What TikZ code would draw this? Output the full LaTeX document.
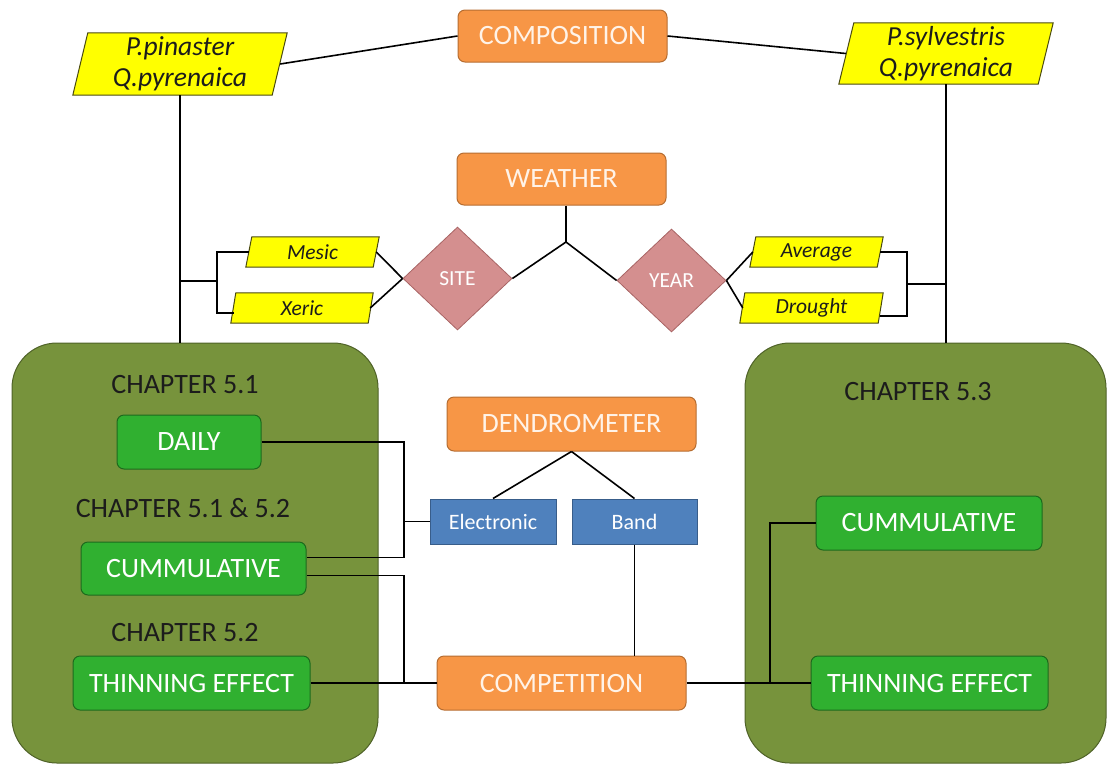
\documentclass[tikz,border=0pt]{standalone}
\usepackage{fontspec}
\setmainfont{Carlito}
\usetikzlibrary{shapes.geometric,calc,backgrounds}
\definecolor{orng}{HTML}{F79646}
\definecolor{orngb}{HTML}{B66D31}
\definecolor{orngt}{HTML}{FFF3E8}
\definecolor{grn}{HTML}{30B030}
\definecolor{grnb}{HTML}{1D6A1D}
\definecolor{olv}{HTML}{77933C}
\definecolor{olvb}{HTML}{4F6228}
\definecolor{blu}{HTML}{4F81BD}
\definecolor{blub}{HTML}{385D8A}
\definecolor{pnk}{HTML}{D48F8F}
\definecolor{pnkb}{HTML}{A86464}
\definecolor{ylw}{HTML}{FFFF00}
\definecolor{ylwb}{HTML}{4A4A10}
\definecolor{txt}{HTML}{1C1C1C}
\tikzset{
  obox/.style={draw=orngb, fill=orng, rounded corners=7pt, line width=1pt, text=orngt, font=\fontsize{28}{32}\selectfont, inner sep=0pt},
  gbox/.style={draw=grnb, fill=grn, rounded corners=7pt, line width=1pt, text=white, font=\fontsize{28}{32}\selectfont, inner sep=0pt},
  bbox/.style={draw=blub, fill=blu, line width=1pt, text=white, font=\fontsize{22}{26}\selectfont, inner sep=0pt},
  dia/.style={diamond, draw=pnkb, fill=pnk, line width=0.8pt, text=white, font=\fontsize{21.5}{25}\selectfont, inner sep=0pt},
  para/.style={inner sep=0pt, text=txt, align=center},
  bigit/.style={font=\itshape\fontsize{27.5}{31}\selectfont},
  smallit/.style={font=\itshape\fontsize{21.5}{25}\selectfont},
  chap/.style={text=txt, font=\fontsize{28}{32}\selectfont, inner sep=0pt},
  conn/.style={line width=1.6pt, black},
  pfill/.style={draw=ylwb, fill=ylw, line width=1pt}
}
\newcommand{\paradraw}[2]{%
  \begin{pgfonlayer}{background}
  \draw[pfill] ([xshift=#2]#1.north west) -- (#1.north east) -- ([xshift=-#2]#1.south east) -- (#1.south west) -- cycle;
  \end{pgfonlayer}}
\begin{document}
\begin{tikzpicture}[x=1pt,y=-1pt]
\useasboundingbox (0,0) rectangle (1108,764);
% chapter boxes
\node[draw=olvb, fill=olv, line width=1pt, rounded corners=45pt, minimum width=366pt, minimum height=420pt, inner sep=0pt] (lbox) at (195,553) {};
\node[draw=olvb, fill=olv, line width=1pt, rounded corners=45pt, minimum width=361pt, minimum height=420pt, inner sep=0pt] (rbox) at (925.5,553) {};
% top
\node[obox, minimum width=209pt, minimum height=52pt] (comp) at (562.5,36) {COMPOSITION};
\node[para, bigit, minimum width=214pt, minimum height=62pt] (pp) at (180,64) {P.pinaster\\Q.pyrenaica};
\paradraw{pp}{15pt}
\node[para, bigit, minimum width=214pt, minimum height=61pt] (ps) at (946,53.5) {P.sylvestris\\Q.pyrenaica};
\paradraw{ps}{15pt}
% weather
\node[obox, minimum width=209pt, minimum height=52pt] (weather) at (561.5,179) {WEATHER};
\node[dia, minimum width=109pt, minimum height=103pt] (site) at (457.5,278.5) {SITE};
\node[dia, minimum width=109pt, minimum height=103pt] (year) at (671.5,280.5) {YEAR};
\node[para, smallit, minimum width=133pt, minimum height=30pt] (mesic) at (312.5,252) {Mesic};
\paradraw{mesic}{6pt}
\node[para, smallit, minimum width=142pt, minimum height=30pt] (xeric) at (302,308) {Xeric};
\paradraw{xeric}{5pt}
\node[para, smallit, minimum width=133pt, minimum height=30pt] (average) at (816.5,252) {Average};
\paradraw{average}{6pt}
\node[para, smallit, minimum width=143pt, minimum height=30pt] (drought) at (811.5,308) {Drought};
\paradraw{drought}{5pt}
% left chapter contents
\node[chap] (ch51) at (185,385) {CHAPTER 5.1};
\node[chap] (ch512) at (183,508) {CHAPTER 5.1 \& 5.2};
\node[chap] (ch52) at (185,633) {CHAPTER 5.2};
\node[gbox, minimum width=144pt, minimum height=54pt] (daily) at (189,442) {DAILY};
\node[gbox, minimum width=225pt, minimum height=53pt] (cumL) at (193.5,568.5) {CUMMULATIVE};
\node[gbox, minimum width=237pt, minimum height=54pt] (thinL) at (191.5,683) {THINNING EFFECT};
% right chapter contents
\node[chap] (ch53) at (918,392) {CHAPTER 5.3};
\node[gbox, minimum width=226pt, minimum height=54pt] (cumR) at (929,523) {CUMMULATIVE};
\node[gbox, minimum width=237pt, minimum height=54pt] (thinR) at (929.5,683) {THINNING EFFECT};
% middle
\node[obox, minimum width=249pt, minimum height=54pt] (dendro) at (571.5,424) {DENDROMETER};
\node[bbox, minimum width=126pt, minimum height=45pt] (elec) at (493,521.5) {Electronic};
\node[bbox, minimum width=125pt, minimum height=45pt] (band) at (634.5,521.5) {Band};
\node[obox, minimum width=249pt, minimum height=54pt] (compet) at (561.5,683) {COMPETITION};
% junction coordinates
\coordinate (wj) at (566,242);
\coordinate (bl) at (217,281);
\coordinate (br) at (907,284);
\coordinate (jL1) at (404,521.5);
\coordinate (jL2) at (404,683);
\coordinate (jR) at (770,683);
% connectors
\draw[conn] ([xshift=-7pt]pp.east) -- (comp.west);
\draw[conn] (comp.east) -- ([xshift=7pt]ps.west);
\draw[conn] (pp.south) -- (pp.south |- lbox.north);
\draw[conn] (ps.south) -- (ps.south |- rbox.north);
\draw[conn] (wj |- weather.south) -- (wj);
\draw[conn] (wj) -- (site.east);
\draw[conn] (wj) -- (year.west);
\draw[conn] ([xshift=-3pt]mesic.east) -- (site.west);
\draw[conn] ([xshift=-3pt]xeric.east) -- (site.west);
\draw[conn] (year.east) -- ([xshift=3pt]average.west);
\draw[conn] (year.east) -- ([xshift=3pt]drought.west);
\draw[conn] ([xshift=3pt]mesic.west) -| (bl) |- ([xshift=3pt,yshift=-5pt]xeric.west);
\draw[conn] (bl) -- (bl -| pp.south);
\draw[conn] ([xshift=-3pt]average.east) -| (br) |- ([xshift=-3pt,yshift=-8pt]drought.east);
\draw[conn] (br) -- (br -| ps.south);
\draw[conn] (daily.east) -| (jL1) |- ([yshift=11pt]cumL.east);
\draw[conn] (jL1) -- (elec.west);
\draw[conn] ([yshift=-7pt]cumL.east) -| (jL2);
\draw[conn] (thinL.east) -- (compet.west);
\draw[conn] (dendro.south) -- (elec.north);
\draw[conn] (dendro.south) -- (band.north);
\draw[conn] (band.south) -- (band.south |- compet.north);
\draw[conn] (compet.east) -- (thinR.west);
\draw[conn] (jR) |- (cumR.west);
\end{tikzpicture}
\end{document}
